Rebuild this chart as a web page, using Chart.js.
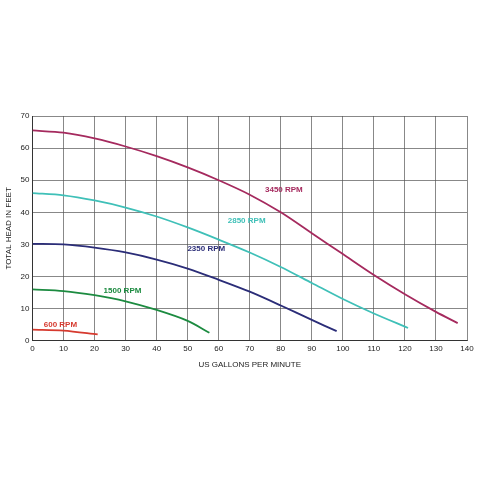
<!DOCTYPE html>
<html><head>
<script src="https://cdn.jsdelivr.net/npm/chart.js@4"></script>
<style>body{margin:0;background:#fff}#wrap{width:480px;height:480px}</style>
</head><body><div id="wrap"><canvas id="c"></canvas></div>
<script>
  const gpm3450 = [0,10,20,30,40,50,60,70,80,90,100,110,120,130,137];
  const head3450 = [65.5,64.8,63,60.5,57.5,54,50,45.5,40,33.5,27,20.5,14.5,9,5.5];
  const gpm2850 = [0,10,20,30,40,50,60,70,80,90,100,110,121];
  const head2850 = [46,45.3,43.7,41.5,38.7,35.3,31.5,27.5,23,18,13,8.5,4];
  const gpm2350 = [0,10,20,30,40,50,60,70,80,90,98];
  const head2350 = [30.2,30,29,27.5,25.3,22.5,19,15.3,11,6.5,3];
  const gpm1500 = [0,10,20,30,40,50,57];
  const head1500 = [16,15.5,14.2,12.3,9.6,6.2,2.5];
  const gpm600 = [0,10,21];
  const head600 = [3.5,3.2,2];

  const series = [
    { label: '3450 RPM', x: gpm3450, y: head3450, color: '#a52a5e', at: [81, 47] },
    { label: '2850 RPM', x: gpm2850, y: head2850, color: '#3fc0b8', at: [69, 37.5] },
    { label: '2350 RPM', x: gpm2350, y: head2350, color: '#2b2d78', at: [56, 28.5] },
    { label: '1500 RPM', x: gpm1500, y: head1500, color: '#1c8b40', at: [29, 15.5] },
    { label: '600 RPM', x: gpm600, y: head600, color: '#d63a2f', at: [9, 5] }
  ];

  const curveLabels = {
    id: 'curveLabels',
    afterDatasetsDraw(chart) {
      const { ctx, scales } = chart;
      ctx.save();
      ctx.font = 'bold 8px Arial, "Liberation Sans"';
      ctx.textAlign = 'center';
      ctx.textBaseline = 'middle';
      series.forEach(s => {
        ctx.fillStyle = s.color;
        ctx.fillText(s.label, scales.x.getPixelForValue(s.at[0]), scales.y.getPixelForValue(s.at[1]));
      });
      ctx.restore();
    }
  };

  new Chart(document.getElementById('c'), {
    type: 'scatter',
    data: {
      datasets: series.map(s => ({
        label: s.label,
        data: s.x.map((v, i) => ({ x: v, y: s.y[i] })),
        showLine: true,
        borderColor: s.color,
        borderWidth: 1.8,
        pointRadius: 0,
        tension: 0.3
      }))
    },
    options: {
      animation: false,
      responsive: true,
      maintainAspectRatio: false,
      layout: { padding: { left: 0, right: 13, top: 116, bottom: 106 } },
      plugins: { legend: { display: false }, tooltip: { enabled: false } },
      scales: {
        x: {
          min: 0, max: 140,
          ticks: { stepSize: 10, color: '#222', font: { size: 8, family: 'Arial, "Liberation Sans"' } },
          grid: { color: '#555', lineWidth: 0.7, drawTicks: false },
          border: { color: '#333' },
          title: { display: true, text: 'US GALLONS PER MINUTE', color: '#222', font: { size: 8, family: 'Arial, "Liberation Sans"' } }
        },
        y: {
          min: 0, max: 70,
          ticks: { stepSize: 10, color: '#222', font: { size: 8, family: 'Arial, "Liberation Sans"' } },
          grid: { color: '#555', lineWidth: 0.7, drawTicks: false },
          border: { color: '#333' },
          title: { display: true, text: 'TOTAL HEAD IN FEET', color: '#222', font: { size: 8, family: 'Arial, "Liberation Sans"' } }
        }
      }
    },
    plugins: [curveLabels]
  });
</script>
</body></html>
